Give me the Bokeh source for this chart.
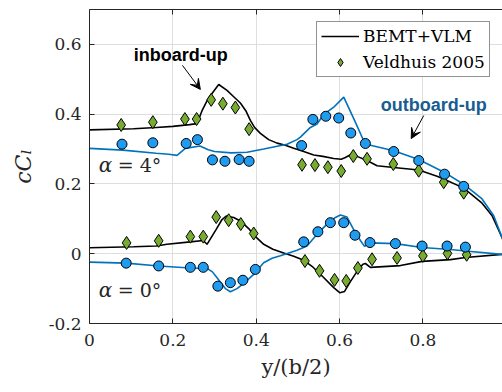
from bokeh.plotting import figure
from bokeh.models import (Range1d, FixedTicker, LinearAxis, Legend, LegendItem,
                          Arrow, VeeHead, Label)
from bokeh.embed import file_html
from bokeh.resources import INLINE

# ---------------- data ----------------
x_ticks = [0, 0.2, 0.4, 0.6, 0.8, 1]
x_tick_labels = ["0", "0.2", "0.4", "0.6", "0.8", "1"]
y_ticks = [-0.2, 0, 0.2, 0.4, 0.6]
y_tick_labels = ["-0.2", "0", "0.2", "0.4", "0.6"]

# BEMT+VLM, inboard-up, alpha = 4 deg (black line)
bemt_in4_x = [0, 0.106, 0.16, 0.2, 0.24, 0.258, 0.27, 0.285, 0.31, 0.33, 0.346, 0.362,
              0.375, 0.386, 0.396, 0.41, 0.43, 0.45, 0.47, 0.49, 0.514, 0.538, 0.56,
              0.586, 0.604, 0.614, 0.624, 0.632, 0.642, 0.666, 0.69, 0.73, 0.79, 0.834,
              0.85, 0.898, 0.942, 0.966, 0.99, 1.0]
bemt_in4_y = [0.355, 0.358, 0.362, 0.365, 0.370, 0.373, 0.41, 0.445, 0.485, 0.468, 0.450,
              0.432, 0.41, 0.382, 0.362, 0.345, 0.327, 0.317, 0.311, 0.302, 0.293, 0.283,
              0.279, 0.273, 0.271, 0.276, 0.282, 0.284, 0.279, 0.267, 0.252, 0.247, 0.240,
              0.222, 0.214, 0.188, 0.145, 0.109, 0.046, 0.02]

# BEMT+VLM, outboard-up, alpha = 4 deg (blue line)
bemt_out4_x = [0, 0.08, 0.16, 0.19, 0.21, 0.23, 0.265, 0.285, 0.30, 0.34, 0.378, 0.418,
               0.474, 0.498, 0.506, 0.53, 0.546, 0.562, 0.586, 0.610, 0.636, 0.660, 0.664,
               0.73, 0.79, 0.852, 0.90, 0.942, 0.970, 0.99, 1.0]
bemt_out4_y = [0.302, 0.297, 0.288, 0.285, 0.282, 0.302, 0.309, 0.298, 0.293, 0.289, 0.291,
               0.300, 0.314, 0.327, 0.334, 0.362, 0.372, 0.399, 0.420, 0.449, 0.382, 0.318,
               0.314, 0.295, 0.270, 0.233, 0.197, 0.157, 0.109, 0.046, 0.02]

# BEMT+VLM, inboard-up, alpha = 0 deg (black line)
bemt_in0_x = [0, 0.106, 0.16, 0.186, 0.242, 0.273, 0.282, 0.304, 0.318, 0.328, 0.346, 0.362,
              0.382, 0.394, 0.418, 0.44, 0.466, 0.49, 0.514, 0.534, 0.554, 0.586, 0.601,
              0.612, 0.626, 0.644, 0.656, 0.662, 0.674, 0.746, 0.798, 0.866, 0.902, 0.99, 1.0]
bemt_in0_y = [0.017, 0.020, 0.022, 0.027, 0.034, 0.038, 0.027, 0.070, 0.098, 0.108, 0.104,
              0.094, 0.072, 0.054, 0.027, 0.013, 0.002, -0.007, -0.019, -0.036, -0.059,
              -0.097, -0.112, -0.108, -0.080, -0.047, -0.030, -0.028, -0.039, -0.034,
              -0.022, -0.017, -0.011, -0.002, 0.0]

# BEMT+VLM, outboard-up, alpha = 0 deg (blue line)
bemt_out0_x = [0, 0.088, 0.166, 0.242, 0.282, 0.295, 0.306, 0.326, 0.338, 0.354, 0.370,
               0.394, 0.418, 0.438, 0.458, 0.498, 0.522, 0.546, 0.570, 0.590, 0.602, 0.618,
               0.638, 0.650, 0.660, 0.673, 0.734, 0.798, 0.866, 0.902, 0.99, 1.0]
bemt_out0_y = [-0.024, -0.027, -0.035, -0.041, -0.042, -0.052, -0.069, -0.100, -0.109,
               -0.100, -0.085, -0.059, -0.026, -0.013, -0.006, 0.010, 0.022, 0.056, 0.085,
               0.104, 0.111, 0.105, 0.060, 0.038, 0.021, 0.031, 0.029, 0.018, 0.012, 0.008,
               -0.002, 0.0]

# Veldhuis 2005, inboard-up (green diamonds)
vel_in4_x = [0.076, 0.152, 0.229, 0.257, 0.292, 0.320, 0.350, 0.383, 0.510, 0.541, 0.572,
             0.604, 0.633, 0.666, 0.729, 0.790, 0.850, 0.898]
vel_in4_y = [0.369, 0.377, 0.386, 0.386, 0.441, 0.430, 0.419, 0.357, 0.255, 0.254, 0.248,
             0.237, 0.280, 0.272, 0.257, 0.238, 0.205, 0.175]
vel_in0_x = [0.089, 0.166, 0.242, 0.273, 0.304, 0.334, 0.363, 0.394, 0.517, 0.552, 0.588,
             0.616, 0.644, 0.678, 0.738, 0.800, 0.859, 0.905]
vel_in0_y = [0.031, 0.037, 0.049, 0.049, 0.105, 0.096, 0.085, 0.058, -0.021, -0.049,
             -0.075, -0.078, -0.041, -0.016, -0.012, -0.006, 0.001, -0.003]

# Veldhuis 2005, outboard-up (blue circles)
vel_out4_x = [0.078, 0.152, 0.232, 0.259, 0.295, 0.325, 0.359, 0.383, 0.509, 0.536, 0.567,
              0.598, 0.627, 0.662, 0.730, 0.790, 0.852, 0.898]
vel_out4_y = [0.314, 0.318, 0.316, 0.327, 0.269, 0.265, 0.270, 0.265, 0.310, 0.385, 0.394,
              0.389, 0.346, 0.316, 0.293, 0.267, 0.228, 0.193]
vel_out0_x = [0.088, 0.166, 0.242, 0.273, 0.308, 0.338, 0.368, 0.398, 0.514, 0.548, 0.578,
              0.610, 0.637, 0.673, 0.734, 0.798, 0.858, 0.902]
vel_out0_y = [-0.027, -0.035, -0.039, -0.039, -0.093, -0.083, -0.076, -0.045, 0.034, 0.063,
              0.089, 0.089, 0.053, 0.032, 0.029, 0.022, 0.022, 0.019]

# ---------------- figure ----------------
AX = "#262626"
SERIF = "DejaVu Serif"

p = figure(width=502, height=392, output_backend="svg", toolbar_location=None,
           x_range=Range1d(0, 0.991), y_range=Range1d(-0.2, 0.7),
           min_border_left=89, min_border_right=0, min_border_top=9,
           min_border_bottom=69)
p.outline_line_color = None
p.background_fill_color = "white"

for ax, ticks, labels in ((p.xaxis[0], x_ticks, x_tick_labels),
                          (p.yaxis[0], y_ticks, y_tick_labels)):
    ax.ticker = FixedTicker(ticks=ticks)
    ax.major_label_overrides = {t: l for t, l in zip(ticks, labels)}
    ax.major_tick_in = 5
    ax.major_tick_out = 0
    ax.minor_tick_line_color = None
    ax.axis_line_color = AX
    ax.major_tick_line_color = AX
    ax.major_label_text_font = SERIF
    ax.major_label_text_font_size = "17px"
    ax.major_label_text_color = AX
    ax.axis_label_text_color = AX

p.xaxis.major_label_standoff = 10
p.yaxis.major_label_standoff = 8
p.xaxis.axis_label = "y/(b/2)"
p.xaxis.axis_label_text_font = SERIF
p.xaxis.axis_label_text_font_style = "normal"
p.xaxis.axis_label_text_font_size = "21px"
p.xaxis.axis_label_standoff = 6
p.yaxis.axis_label = "cCₗ"
p.yaxis.axis_label_text_font = SERIF
p.yaxis.axis_label_text_font_style = "italic"
p.yaxis.axis_label_text_font_size = "22px"
p.yaxis.axis_label_standoff = 10

top_ax = LinearAxis(ticker=FixedTicker(ticks=x_ticks), major_label_text_font_size="0px",
                    major_label_text_color=None, major_label_standoff=0,
                    major_tick_in=5, major_tick_out=0, minor_tick_line_color=None,
                    axis_line_color=AX, major_tick_line_color=AX)
p.add_layout(top_ax, "above")

p.xgrid.ticker = FixedTicker(ticks=x_ticks)
p.ygrid.ticker = FixedTicker(ticks=y_ticks)
p.grid.grid_line_color = "#dedede"
p.grid.grid_line_width = 1

BLUE = "#0072BD"
l_in4 = p.line(bemt_in4_x, bemt_in4_y, line_color="black", line_width=1.6)
p.line(bemt_in0_x, bemt_in0_y, line_color="black", line_width=1.6)
p.line(bemt_out4_x, bemt_out4_y, line_color=BLUE, line_width=1.6)
p.line(bemt_out0_x, bemt_out0_y, line_color=BLUE, line_width=1.6)

d_in4 = p.scatter(vel_in4_x, vel_in4_y, marker="diamond", size=13,
                  fill_color="#77AC30", line_color="black", line_width=1)
p.scatter(vel_in0_x, vel_in0_y, marker="diamond", size=13,
          fill_color="#77AC30", line_color="black", line_width=1)
p.scatter(vel_out4_x, vel_out4_y, marker="circle", size=10,
          fill_color="#1f9cf0", line_color="black", line_width=1)
p.scatter(vel_out0_x, vel_out0_y, marker="circle", size=10,
          fill_color="#1f9cf0", line_color="black", line_width=1)

legend = Legend(items=[LegendItem(label="BEMT+VLM", renderers=[l_in4]),
                       LegendItem(label="Veldhuis 2005", renderers=[d_in4])],
                location=(227, 246), margin=0, padding=4, spacing=6,
                glyph_width=38, glyph_height=20, label_standoff=4,
                label_text_font=SERIF, label_text_font_size="17px",
                label_text_color="black", border_line_color=AX,
                border_line_width=1.2, background_fill_alpha=1)
p.add_layout(legend)

# annotations
p.add_layout(Label(x=0.219, y=0.571, text="inboard-up", text_align="center",
                   text_baseline="middle", text_font="Liberation Sans",
                   text_font_style="bold", text_font_size="18px", text_color="black"))
p.add_layout(Label(x=0.826, y=0.425, text="outboard-up", text_align="center",
                   text_baseline="middle", text_font="Liberation Sans",
                   text_font_style="bold", text_font_size="18px", text_color="#175d91"))
p.add_layout(Arrow(end=VeeHead(size=10, fill_color="black", line_color="black"),
                   x_start=0.223, y_start=0.540, x_end=0.266, y_end=0.471,
                   line_color="black", line_width=1))
p.add_layout(Arrow(end=VeeHead(size=10, fill_color="black", line_color="black"),
                   x_start=0.802, y_start=0.396, x_end=0.772, y_end=0.330,
                   line_color="black", line_width=1))

for yy, txt in ((0.255, "= 4°"), (-0.104, "= 0°")):
    p.add_layout(Label(x=0.022, y=yy, text="α", text_baseline="middle",
                       text_font=SERIF, text_font_style="italic",
                       text_font_size="20px", text_color=AX))
    p.add_layout(Label(x=0.022, y=yy, x_offset=19, text=txt, text_baseline="middle",
                       text_font=SERIF, text_font_size="19px", text_color=AX))

open("out.html", "w").write(file_html(p, INLINE))
